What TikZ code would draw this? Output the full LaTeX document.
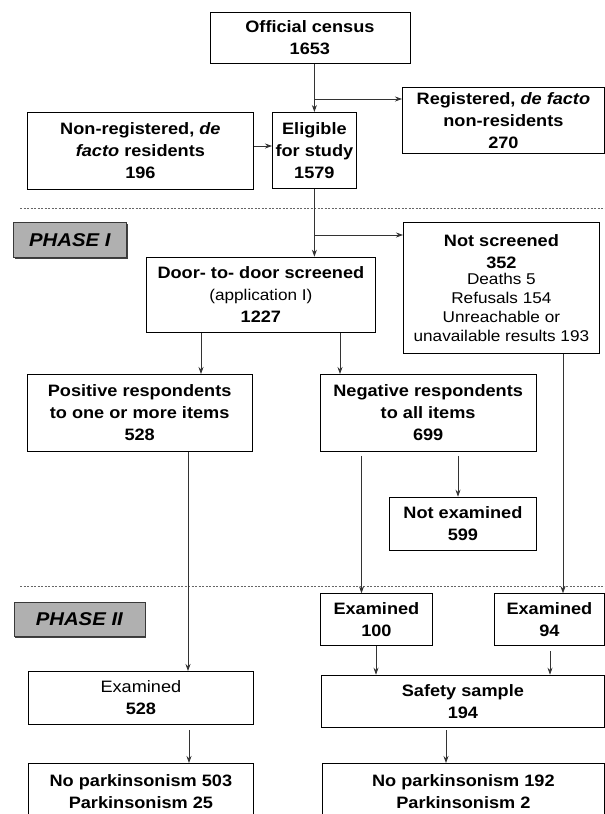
\documentclass[tikz,border=0pt]{standalone}
\usepackage{fontspec}
\setmainfont{Liberation Sans}[FakeStretch=1.1]
\usetikzlibrary{arrows.meta,shadows}
\tikzset{
  box/.style={draw=black, line width=0.8pt, fill=white, align=center, inner sep=0pt,
    anchor=north west, font=\bfseries\fontsize{16.5}{22}\selectfont},
  phase/.style={draw=gray!45!black, fill=gray!62, line width=0.6pt, anchor=north west,
    inner sep=0pt, font=\bfseries\itshape\fontsize{18.5}{20}\selectfont,
    drop shadow={shadow xshift=1.6pt, shadow yshift=-1.6pt, fill=black!75, opacity=1}},
  conn/.style={draw=black!80, line width=0.8pt},
  arr/.style={conn, -{Stealth[length=7pt,width=5pt]}},
  sep/.style={draw=black!60, line width=0.5pt, dash pattern=on 2pt off 1.5pt}
}
\newcommand{\rg}{\mdseries\fontsize{15.6}{18.5}\selectfont}
\begin{document}
\begin{tikzpicture}[x=1pt,y=-1pt]
\useasboundingbox (0,0) rectangle (605,814);
% separators
\draw[sep] (20,208.3) -- (605,208.3);
\draw[sep] (20,586.7) -- (605,586.7);
% phase labels
\node[phase, minimum width=113pt, minimum height=35pt] (ph1) at (13,222) {PHASE I};
\node[phase, minimum width=131pt, minimum height=34pt] (ph2) at (13.5,601.7) {PHASE II};
% boxes
\node[box, minimum width=200pt, minimum height=51.6pt] (census) at (209.5,11.7) {Official census\\1653};
\node[box, minimum width=202pt, minimum height=66pt] (registered) at (402,87) {Registered, \textit{de facto}\\non-residents\\270};
\node[box, minimum width=226pt, minimum height=77pt] (nonreg) at (27,112) {Non-registered, \textit{de}\\\textit{facto} residents\\196};
\node[box, minimum width=84pt, minimum height=76pt] (eligible) at (272,112) {Eligible\\for study\\1579};
\node[box, minimum width=229pt, minimum height=75pt] (door) at (146,256.7) {Door- to- door screened\\{\rg (application I)}\\1227};
\node[box, minimum width=196pt, minimum height=131pt] (notscr) at (403,222.3) {Not screened\\352\\[-6pt]{\rg Deaths 5}\\[-3pt]{\rg Refusals 154}\\[-3pt]{\rg Unreachable\  or}\\[-3pt]{\rg unavailable results 193}};
\node[box, minimum width=224.5pt, minimum height=77pt] (positive) at (27,374) {Positive respondents\\to one or more items\\528};
\node[box, minimum width=215.5pt, minimum height=77pt] (negative) at (320,374) {Negative respondents\\to all items\\699};
\node[box, minimum width=147pt, minimum height=53.3pt] (notexam) at (389,496.7) {Not examined\\599};
\node[box, minimum width=112pt, minimum height=52pt] (ex100) at (320,593.3) {Examined\\100};
\node[box, minimum width=110pt, minimum height=52pt] (ex94) at (494,593.3) {Examined\\94};
\node[box, minimum width=225pt, minimum height=53pt] (ex528) at (28,671) {{\mdseries Examined}\\528};
\node[box, minimum width=283pt, minimum height=52.6pt] (safety) at (321,674.7) {Safety sample\\194};
\node[box, minimum width=225pt, minimum height=56.6pt] (noparkL) at (28,763) {No parkinsonism 503\\Parkinsonism 25};
\node[box, minimum width=282pt, minimum height=56.6pt] (noparkR) at (322,763) {No parkinsonism 192\\Parkinsonism 2};
% helper coordinates
\coordinate (r1) at (314,99);
\coordinate (n1) at (0,146);
\coordinate (s1) at (314,235);
\coordinate (cx1) at (201,0);
\coordinate (cx2) at (340,0);
\coordinate (cx3) at (188,0);
\coordinate (cx4) at (361.5,0);
\coordinate (cx5) at (458,0);
\coordinate (cx6) at (563,0);
\coordinate (cx7) at (376,0);
\coordinate (cx8) at (550,0);
\coordinate (cx9) at (189,0);
\coordinate (cx10) at (446,0);
% connectors
\draw[arr] (census.south -| eligible.north) -- (eligible.north);
\draw[arr] (r1) -- (r1 -| registered.west);
\draw[arr] (nonreg.east |- n1) -- (eligible.west |- n1);
\draw[arr] (eligible.south) -- (eligible.south |- door.north);
\draw[arr] (s1) -- (s1 -| notscr.west);
\draw[arr] (door.south -| cx1) -- (positive.north -| cx1);
\draw[arr] (door.south -| cx2) -- (negative.north -| cx2);
\draw[arr] (positive.south -| cx3) -- (ex528.north -| cx3);
\draw[arr, shorten <=4pt] (negative.south -| cx4) -- (ex100.north -| cx4);
\draw[arr, shorten <=4pt] (negative.south -| cx5) -- (notexam.north -| cx5);
\draw[arr] (notscr.south -| cx6) -- (ex94.north -| cx6);
\draw[arr] (ex100.south -| cx7) -- (safety.north -| cx7);
\draw[arr, shorten <=5pt] (ex94.south -| cx8) -- (safety.north -| cx8);
\draw[arr, shorten <=5pt] (ex528.south -| cx9) -- (noparkL.north -| cx9);
\draw[arr, shorten <=2pt] (safety.south -| cx10) -- (noparkR.north -| cx10);
\end{tikzpicture}
\end{document}
